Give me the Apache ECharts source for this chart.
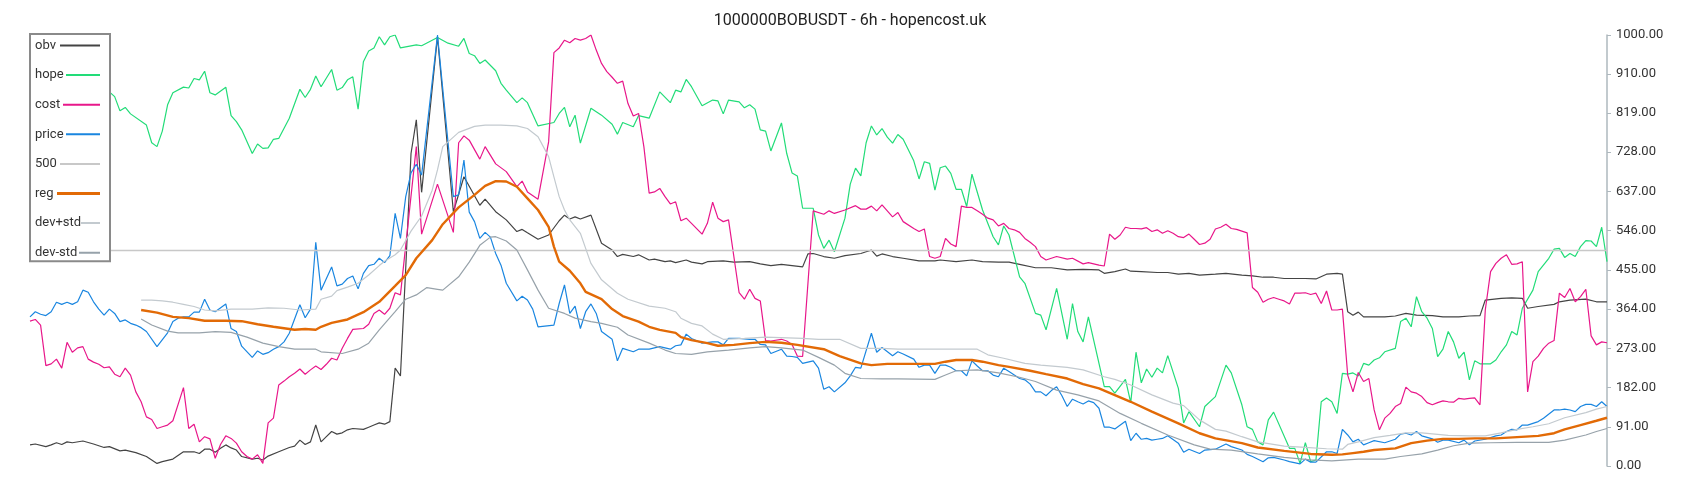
<!DOCTYPE html>
<html>
<head>
<meta charset="utf-8">
<script src="https://cdn.jsdelivr.net/npm/echarts@6/dist/echarts.min.js"></script>
<style>
  html, body { margin: 0; padding: 0; background: #fff; }
</style>
</head>
<body>
<div id="main" style="width: 1700px;height:500px;"></div>
<script>
// [index, value] pairs, index = candle number (0..298)
var obvData = [[0,49],[1,51],[3,45],[4,49],[5,54],[6,50],[7,56],[8,54],[10,58],[12,51],[14,43],[15,45],[17,35],[18,37],[20,31],[22,22],[24,6],[25,10],[27,16],[29,33],[31,33],[32,29],[33,39],[34,39],[35,32],[36,41],[37,49],[38,42],[39,37],[40,22],[42,16],[43,18],[44,14],[45,23],[47,33],[49,43],[50,46],[51,60],[52,50],[53,56],[54,95],[55,56],[56,68],[57,80],[58,74],[59,77],[60,84],[61,87],[63,85],[64,90],[65,95],[66,100],[67,97],[68,103],[69,227],[70,209],[71,459],[72,725],[73,803],[74,635],[77,996],[80,590],[82,671],[85,605],[86,619],[88,590],[90,571],[92,544],[93,549],[94,541],[96,526],[98,536],[100,569],[101,582],[102,573],[103,578],[104,573],[106,582],[108,517],[110,501],[111,486],[112,491],[114,486],[115,490],[117,478],[118,480],[120,474],[121,476],[122,472],[124,478],[125,473],[127,469],[128,474],[131,476],[133,473],[136,474],[138,469],[140,465],[142,468],[146,462],[147,492],[148,493],[150,486],[152,482],[154,488],[157,493],[158,497],[159,501],[160,487],[161,492],[163,486],[165,482],[168,476],[171,476],[172,478],[175,474],[178,478],[180,474],[183,473],[185,473],[187,468],[190,460],[193,460],[196,455],[199,456],[202,455],[203,447],[205,451],[207,457],[208,452],[210,451],[213,449],[215,449],[217,445],[219,447],[221,443],[224,445],[226,447],[229,443],[231,441],[233,438],[235,438],[237,435],[239,435],[241,435],[243,434],[245,445],[247,447],[248,445],[249,358],[250,350],[251,357],[252,346],[254,346],[256,346],[258,348],[260,354],[262,350],[265,349],[267,346],[270,346],[272,348],[274,349],[275,385],[278,389],[280,390],[282,389],[283,366],[285,370],[288,375],[289,381],[291,385],[294,387],[296,381],[298,381]];

var hopeData = [[0,850],[3,872],[6,858],[9,880],[12,866],[15,868],[16,857],[17,824],[18,832],[19,817],[22,791],[23,750],[24,741],[25,777],[26,838],[27,866],[29,879],[30,877],[31,899],[32,896],[33,916],[34,866],[35,861],[37,879],[38,813],[39,799],[40,780],[42,725],[43,747],[44,737],[45,738],[46,758],[47,760],[49,807],[51,874],[52,855],[53,874],[54,905],[55,880],[57,920],[58,872],[59,878],[60,896],[61,903],[62,828],[63,938],[64,963],[65,970],[66,996],[67,977],[68,996],[69,1000],[70,970],[73,977],[74,975],[77,994],[79,981],[81,974],[82,992],[83,957],[84,952],[85,934],[86,942],[88,917],[89,888],[90,872],[92,843],[93,854],[94,843],[96,789],[99,797],[100,818],[101,832],[102,787],[103,814],[104,749],[106,830],[108,814],[110,793],[111,770],[112,797],[114,787],[115,813],[117,807],[119,868],[121,843],[122,872],[123,868],[124,897],[125,880],[127,836],[129,849],[130,847],[131,817],[132,849],[134,845],[135,831],[136,838],[137,828],[138,780],[139,777],[140,731],[142,796],[143,725],[144,680],[145,673],[146,598],[148,598],[149,536],[150,505],[151,524],[152,497],[154,575],[155,654],[156,691],[157,673],[158,750],[159,789],[160,768],[161,783],[162,763],[163,749],[164,769],[165,758],[167,708],[168,666],[169,706],[170,702],[171,640],[172,692],[173,696],[174,679],[175,642],[176,642],[177,602],[178,677],[180,594],[182,532],[183,513],[184,557],[185,536],[187,439],[188,424],[190,354],[191,350],[192,316],[194,412],[196,294],[197,377],[198,312],[199,288],[200,346],[203,184],[204,184],[205,169],[207,201],[208,147],[209,264],[210,193],[211,225],[212,206],[213,227],[214,216],[215,256],[217,180],[218,100],[219,126],[221,91],[222,138],[224,161],[226,234],[227,216],[229,142],[230,91],[231,85],[232,56],[233,49],[234,107],[235,125],[238,41],[239,41],[240,6],[241,54],[242,10],[243,14],[244,149],[245,158],[246,149],[247,122],[248,215],[249,213],[250,216],[251,209],[252,238],[253,234],[254,246],[255,251],[256,265],[258,273],[259,335],[260,343],[261,323],[262,393],[263,358],[264,343],[265,319],[266,254],[267,271],[268,312],[269,288],[270,250],[271,264],[272,200],[273,244],[274,237],[276,237],[277,246],[278,265],[279,281],[280,312],[281,304],[282,366],[284,408],[285,451],[287,482],[288,503],[289,505],[290,484],[291,493],[292,486],[293,509],[294,523],[295,522],[296,509],[297,554],[298,474]];

var costData = [[0,336],[1,340],[2,327],[3,233],[4,237],[5,248],[6,227],[7,287],[8,264],[9,274],[10,277],[11,248],[12,241],[13,236],[14,228],[15,230],[16,213],[17,207],[18,227],[19,211],[20,172],[21,149],[22,114],[23,108],[24,87],[25,91],[26,95],[27,105],[29,182],[30,87],[31,97],[32,56],[33,68],[34,63],[35,18],[36,50],[37,70],[38,64],[39,53],[40,33],[41,22],[42,16],[43,26],[44,6],[45,100],[46,111],[47,188],[48,197],[49,207],[50,215],[51,225],[52,213],[53,223],[54,232],[55,224],[56,236],[57,250],[58,246],[59,273],[60,296],[61,317],[63,319],[64,329],[65,354],[66,362],[67,352],[68,366],[69,402],[70,397],[73,741],[74,538],[77,654],[80,542],[81,750],[82,766],[83,756],[85,712],[86,741],[88,701],[90,683],[92,648],[93,661],[94,636],[96,619],[98,752],[99,959],[100,970],[101,988],[102,982],[103,992],[104,988],[105,992],[106,1000],[107,965],[108,934],[109,915],[110,902],[111,888],[112,893],[113,841],[114,812],[115,818],[116,741],[117,633],[118,636],[119,644],[120,625],[121,608],[122,613],[123,569],[124,575],[125,563],[127,538],[128,563],[129,612],[130,575],[131,567],[132,571],[134,402],[135,387],[136,410],[137,389],[138,383],[139,291],[140,290],[142,294],[143,290],[144,282],[145,255],[146,254],[148,592],[150,584],[151,592],[152,586],[154,594],[156,604],[157,596],[158,596],[159,603],[160,592],[161,606],[163,578],[164,588],[165,567],[167,551],[168,544],[169,550],[170,486],[171,482],[172,486],[173,528],[174,515],[175,509],[176,603],[177,600],[178,600],[179,592],[180,584],[181,575],[182,571],[183,557],[184,563],[185,551],[186,548],[187,542],[188,528],[189,519],[190,509],[191,486],[192,478],[194,486],[196,480],[197,482],[199,469],[200,472],[202,466],[203,464],[204,538],[205,526],[206,536],[207,554],[208,551],[209,551],[210,550],[211,553],[212,544],[213,548],[214,540],[215,546],[216,540],[217,532],[218,530],[219,538],[220,526],[221,514],[222,517],[223,526],[224,550],[225,554],[226,561],[227,551],[228,549],[229,545],[230,541],[231,414],[232,403],[233,380],[234,387],[235,391],[236,387],[237,383],[238,376],[239,401],[240,401],[241,402],[242,398],[243,401],[244,377],[245,406],[246,362],[247,362],[248,364],[249,211],[250,172],[251,217],[252,196],[253,203],[254,130],[255,84],[256,111],[257,122],[258,138],[259,145],[260,183],[261,172],[262,169],[263,161],[264,147],[265,142],[266,147],[267,151],[268,149],[269,148],[270,157],[271,155],[272,157],[273,158],[274,142],[275,362],[276,451],[277,470],[278,482],[279,490],[280,468],[281,469],[282,474],[283,172],[284,242],[285,255],[286,273],[287,285],[288,291],[289,401],[290,391],[291,412],[292,381],[293,393],[294,410],[295,302],[296,281],[297,288],[298,286]];

var priceData = [[0,346],[1,358],[2,352],[3,349],[4,358],[5,380],[6,375],[7,380],[8,375],[9,381],[10,408],[11,403],[12,381],[13,364],[14,350],[15,364],[16,354],[17,335],[18,339],[19,331],[20,327],[21,321],[22,312],[24,277],[26,309],[27,335],[28,343],[29,346],[30,346],[31,357],[32,357],[33,387],[34,362],[35,358],[37,376],[38,319],[39,312],[40,278],[42,252],[43,267],[44,259],[45,263],[46,271],[47,277],[48,288],[49,308],[51,374],[52,344],[53,364],[54,519],[55,408],[57,462],[58,418],[59,422],[60,435],[61,441],[62,411],[63,447],[64,465],[65,468],[66,482],[67,472],[68,488],[69,586],[70,528],[71,625],[72,680],[73,700],[74,675],[77,1000],[80,625],[81,629],[82,710],[83,589],[84,567],[85,528],[86,542],[87,531],[88,493],[89,466],[90,424],[92,383],[93,394],[94,385],[95,364],[96,323],[99,327],[100,377],[101,420],[102,354],[103,371],[104,319],[105,358],[106,376],[107,354],[108,312],[110,294],[111,244],[112,273],[114,265],[115,271],[117,271],[119,277],[121,271],[122,279],[123,281],[124,306],[125,296],[127,285],[129,288],[130,288],[131,281],[132,296],[134,296],[136,294],[137,294],[138,282],[139,281],[140,261],[142,271],[143,255],[144,254],[145,252],[146,238],[148,244],[149,227],[150,178],[151,184],[152,172],[154,193],[155,209],[156,229],[157,227],[159,308],[160,264],[161,275],[163,256],[164,265],[165,260],[167,248],[168,229],[169,234],[170,234],[171,215],[172,234],[173,234],[174,229],[175,221],[176,221],[177,209],[178,244],[179,232],[180,221],[181,221],[182,211],[183,207],[184,227],[185,219],[186,211],[187,203],[188,200],[189,190],[190,172],[191,172],[192,163],[193,175],[194,184],[195,163],[196,138],[197,155],[198,149],[199,144],[200,151],[201,147],[202,134],[203,90],[204,90],[205,86],[207,104],[208,59],[209,76],[210,62],[211,64],[212,60],[213,62],[214,64],[215,70],[217,53],[218,32],[219,39],[221,29],[222,37],[224,39],[226,51],[227,45],[229,37],[230,27],[231,22],[233,10],[234,19],[235,20],[237,14],[238,10],[240,5],[241,16],[242,9],[243,9],[245,33],[246,33],[247,29],[248,85],[249,72],[250,56],[251,62],[252,49],[253,54],[254,59],[256,54],[258,62],[259,74],[260,76],[261,72],[262,80],[263,70],[265,63],[266,55],[267,60],[268,60],[270,54],[271,60],[272,49],[273,58],[275,62],[277,70],[278,72],[279,80],[280,85],[281,84],[282,95],[283,95],[285,103],[286,111],[288,130],[289,130],[290,132],[291,130],[292,126],[293,138],[294,143],[295,143],[296,138],[297,149],[298,138]];

var regData = [[21,362],[24,356],[27,346],[30,343],[33,337],[37,337],[40,336],[43,329],[46,323],[49,318],[50,316],[52,318],[54,316],[55,323],[57,332],[60,340],[63,357],[66,381],[69,418],[71,443],[73,482],[76,524],[78,561],[81,600],[84,629],[86,650],[88,661],[90,660],[92,648],[94,621],[96,594],[98,555],[99,509],[100,474],[102,453],[104,424],[105,404],[108,387],[110,364],[112,348],[115,335],[117,323],[119,316],[122,309],[123,299],[125,292],[128,285],[130,279],[133,281],[136,285],[139,288],[142,286],[145,281],[150,271],[153,255],[157,238],[159,234],[162,237],[164,237],[171,237],[173,242],[175,246],[178,246],[180,242],[183,234],[185,230],[189,221],[192,213],[196,203],[199,190],[202,180],[208,149],[212,126],[217,99],[221,76],[224,64],[229,53],[232,43],[237,35],[242,28],[246,26],[248,27],[250,30],[252,33],[254,37],[258,41],[261,53],[264,59],[267,63],[270,63],[273,64],[277,64],[281,67],[285,70],[288,76],[290,85],[293,95],[296,105],[298,112]];

var devUpData = [[21,385],[23,385],[25,383],[27,380],[29,375],[31,370],[33,362],[35,360],[38,364],[42,364],[45,367],[48,366],[51,362],[54,364],[55,387],[57,394],[58,407],[60,415],[62,424],[64,443],[66,465],[67,475],[69,490],[70,501],[72,545],[74,580],[76,640],[77,687],[78,741],[81,774],[84,788],[86,791],[89,791],[92,789],[94,783],[96,764],[97,741],[98,718],[99,671],[100,625],[101,594],[102,571],[104,540],[105,505],[106,470],[108,432],[111,401],[113,387],[117,371],[120,366],[122,358],[123,343],[125,331],[127,325],[129,306],[131,294],[135,296],[139,299],[146,296],[149,294],[153,294],[157,273],[161,273],[164,271],[168,271],[173,271],[179,271],[181,258],[184,250],[188,238],[191,234],[196,229],[199,223],[203,207],[205,201],[208,188],[212,165],[216,146],[218,140],[221,107],[224,85],[226,81],[229,68],[232,56],[237,46],[241,43],[245,40],[248,39],[249,50],[251,56],[254,66],[257,71],[260,77],[263,77],[268,71],[272,70],[275,70],[278,77],[281,85],[284,91],[287,98],[290,112],[294,124],[296,132],[298,138]];

var devDownData = [[21,341],[23,327],[26,313],[28,309],[32,309],[35,312],[38,310],[41,299],[44,285],[47,277],[50,271],[54,271],[55,265],[59,261],[62,271],[64,285],[66,316],[69,358],[71,387],[73,397],[75,414],[77,410],[78,408],[81,439],[83,473],[85,512],[87,531],[88,532],[90,522],[92,501],[94,455],[96,408],[98,366],[101,354],[103,343],[106,335],[108,331],[111,322],[113,304],[117,285],[120,269],[122,261],[125,259],[128,265],[132,269],[136,274],[139,277],[142,274],[146,269],[149,252],[152,234],[154,215],[157,203],[161,202],[164,202],[171,201],[173,211],[175,221],[179,223],[183,216],[187,206],[190,196],[194,176],[198,165],[202,151],[206,122],[210,99],[215,72],[220,49],[223,39],[227,37],[232,28],[237,20],[242,14],[246,12],[251,16],[256,16],[259,22],[263,28],[266,37],[269,47],[272,53],[276,54],[281,55],[287,55],[290,60],[294,72],[296,80],[298,87]];

var refLevel = 500;
var lastIndex = 298;
var yTicks = { min: 0, max: 1000, step: 91 };

var chart = echarts.init(document.getElementById('main'));

function line (name, data, color, width) {
  return {
    name: name,
    type: 'line',
    data: data,
    symbol: 'none',
    lineStyle: { color: color, width: width },
    itemStyle: { color: color },
    emphasis: { disabled: true }
  };
}

var series = [
  line('obv', obvData, '#444444', 1.2),
  line('hope', hopeData, '#22dc78', 1.2),
  line('cost', costData, '#e8178a', 1.2),
  line('price', priceData, '#1a86e0', 1.2),
  line('500', [[0, refLevel], [lastIndex, refLevel]], '#c8c8c8', 1.6),
  line('reg', regData, '#e26a06', 2.4),
  line('dev+std', devUpData, '#c3cacf', 1.2),
  line('dev-std', devDownData, '#97a2aa', 1.2)
];

// legend swatch fills the space right of the label, all ending at one edge
var swatchBox = 45;
var swatchLen = { obv: 40, hope: 34, cost: 37, price: 34, '500': 40, reg: 43, 'dev+std': 19, 'dev-std': 21 };
function swatch (name) {
  var x0 = swatchBox - swatchLen[name];
  var y0 = name === 'reg' ? 0 : 0.5;
  var y1 = name === 'reg' ? 3 : 2.5;
  return 'path://M0,0L0,3L0,0Z M' + x0 + ',' + y0 + 'H' + swatchBox + 'V' + y1 + 'H' + x0 + 'Z';
}

var option = {
  backgroundColor: '#fff',
  animation: false,
  textStyle: { fontFamily: 'Roboto' },
  title: {
    text: '1000000BOBUSDT - 6h - hopencost.uk',
    left: 'center',
    top: 8,
    textStyle: { fontSize: 16, fontWeight: 'normal', color: '#222', fontFamily: 'Roboto' }
  },
  legend: {
    orient: 'vertical',
    left: 30,
    top: 34,
    align: 'right',
    padding: [5, 10, 2, 5],
    itemGap: 16.6,
    itemWidth: swatchBox,
    itemHeight: 14,
    backgroundColor: '#fff',
    borderColor: '#8a8a8a',
    borderWidth: 2,
    itemStyle: { borderWidth: 0 },
    formatter: function (name) { return '{n|' + name + '}' },
    textStyle: {
      fontSize: 13,
      color: '#333',
      fontFamily: 'Roboto',
      rich: { n: { width: 15, align: 'left', fontSize: 13, color: '#333', fontFamily: 'Roboto' } }
    },
    data: series.map(function (s) {
      return { name: s.name, icon: swatch(s.name) };
    })
  },
  grid: { left: 30, right: 93, top: 35, bottom: 34 },
  xAxis: {
    type: 'value',
    min: 0,
    max: lastIndex,
    show: false
  },
  yAxis: {
    type: 'value',
    position: 'right',
    min: yTicks.min,
    max: yTicks.max,
    interval: yTicks.step,
    axisLine: { show: true, onZero: false, lineStyle: { color: '#aeb8be', width: 1.5 } },
    axisTick: { show: true, length: 4, lineStyle: { color: '#aeb8be' } },
    axisLabel: {
      margin: 9,
      fontSize: 13,
      color: '#333',
      fontFamily: 'Roboto',
      formatter: function (v) { return v.toFixed(2) }
    },
    splitLine: { show: false }
  },
  series: series
};

chart.setOption(option);
</script>
</body>
</html>
